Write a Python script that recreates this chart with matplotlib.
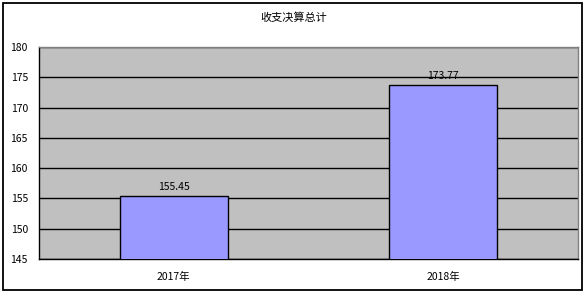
import matplotlib
matplotlib.use("Agg")
import matplotlib.pyplot as plt
from matplotlib.patches import Rectangle

plt.rcParams['font.family'] = ['Noto Sans CJK SC', 'DejaVu Sans']

title = "收支决算总计"
categories = ["2017年", "2018年"]
values = [155.45, 173.77]
y_ticks = [145, 150, 155, 160, 165, 170, 175, 180]

W, H, DPI = 587, 295, 100
fig = plt.figure(figsize=(W / DPI, H / DPI), dpi=DPI)
fig.patch.set_facecolor("white")

# chart frame around the whole figure
fig.add_artist(Rectangle((3 / W, 5 / H), (579 / W), (287 / H),
                         transform=fig.transFigure, fill=False,
                         edgecolor="black", linewidth=1.3))

left, right = 39 / W, 578 / W
top, bottom = 1 - 47 / H, 1 - 259 / H
ax = fig.add_axes([left, bottom, right - left, top - bottom])
ax.set_facecolor("#c0c0c0")

x = list(range(len(categories)))
ax.set_xlim(-0.5, len(categories) - 0.5)
ax.set_ylim(y_ticks[0], y_ticks[-1])
ax.set_yticks(y_ticks)
ax.yaxis.grid(True, color="black", linewidth=1.0)
ax.set_axisbelow(True)

bars = ax.bar(x, values, width=0.4, color="#9999ff", edgecolor="black",
              linewidth=1.0, zorder=3)
for xi, v in zip(x, values):
    ax.text(xi, v + 0.6, f"{v:.2f}", ha="center", va="bottom",
            fontsize=7.5, color="black", zorder=4)

ax.set_xticks(x)
ax.set_xticklabels(categories, fontsize=7.5)
ax.set_yticklabels([str(t) for t in y_ticks], fontsize=7.5)
ax.tick_params(axis="both", length=0, pad=9)
ax.tick_params(axis="y", pad=8)

for side in ["top", "right"]:
    ax.spines[side].set_color("#808080")
for side in ["left", "bottom"]:
    ax.spines[side].set_color("black")
for s in ax.spines.values():
    s.set_linewidth(1.0)

fig.text(0.5, 1 - 18 / H, title, ha="center", va="center", fontsize=8)

fig.savefig("out.png", dpi=DPI, facecolor="white")
